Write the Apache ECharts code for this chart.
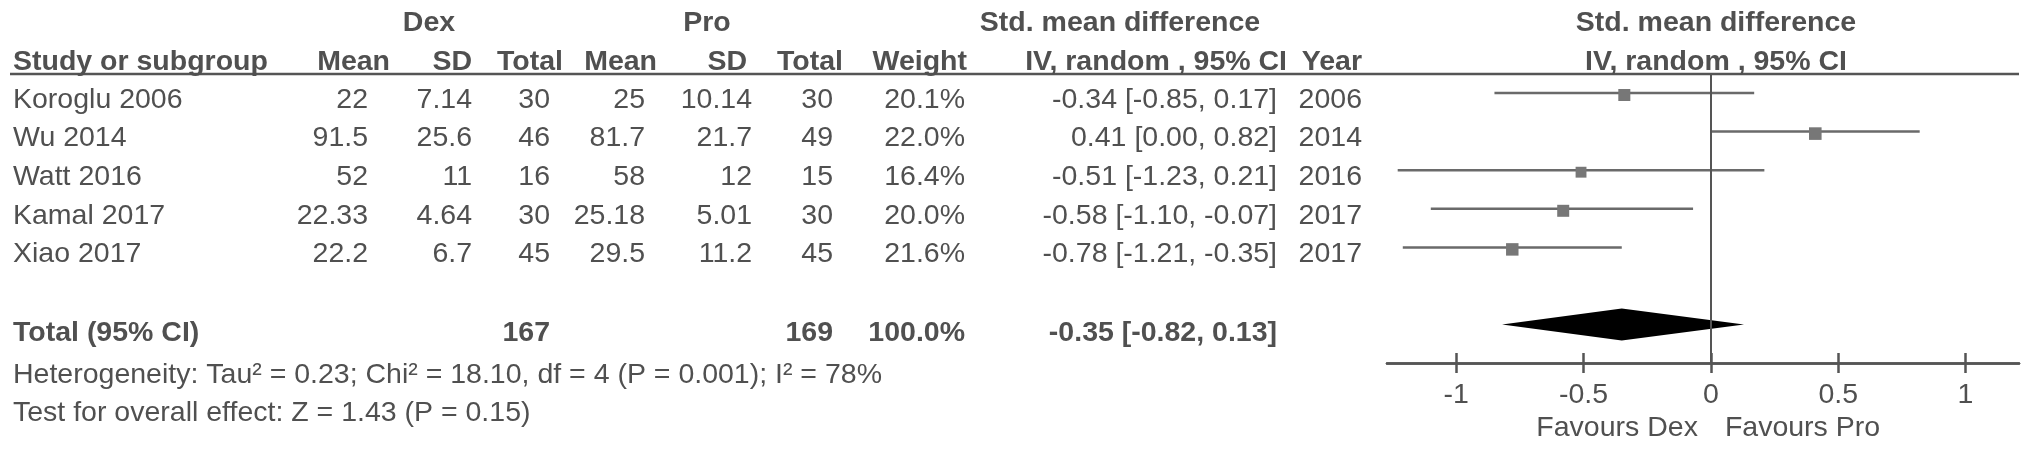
<!DOCTYPE html>
<html>
<head>
<meta charset="utf-8">
<script src="https://cdn.jsdelivr.net/npm/echarts@6/dist/echarts.min.js"></script>
<style>
html,body{margin:0;padding:0;background:#fff;}
#chart{width:2031px;height:451px;}
</style>
</head>
<body>
<div id="chart"></div>
<script>
// ---------------- data ----------------
const studies   = ['Koroglu 2006', 'Wu 2014', 'Watt 2016', 'Kamal 2017', 'Xiao 2017'];
const dexMean   = [22, 91.5, 52, 22.33, 22.2];
const dexSD     = [7.14, 25.6, 11, 4.64, 6.7];
const dexTotal  = [30, 46, 16, 30, 45];
const proMean   = [25, 81.7, 58, 25.18, 29.5];
const proSD     = [10.14, 21.7, 12, 5.01, 11.2];
const proTotal  = [30, 49, 15, 30, 45];
const weights   = [20.1, 22.0, 16.4, 20.0, 21.6];
const smd       = [-0.34, 0.41, -0.51, -0.58, -0.78];
const ciLow     = [-0.85, 0.00, -1.23, -1.10, -1.21];
const ciHigh    = [0.17, 0.82, 0.21, -0.07, -0.35];
const years     = [2006, 2014, 2016, 2017, 2017];
const pooled    = [-0.35, -0.82, 0.13];           // estimate, low, high
const pooledTotals = [167, 169, '100.0%'];
const xTicks    = [-1, -0.5, 0, 0.5, 1];
const groupHeaders = ['Dex', 'Pro', 'Std. mean difference', 'Std. mean difference'];
const colHeaders = ['Study or subgroup', 'Mean', 'SD', 'Total', 'Mean', 'SD', 'Total', 'Weight', 'IV, random , 95% CI', 'Year'];
const plotHeader2 = 'IV, random , 95% CI';
const favours   = ['Favours Dex', 'Favours Pro'];
const totalLabel = 'Total (95% CI)';
const heterogeneityText = 'Heterogeneity: Tau\u00B2 = 0.23; Chi\u00B2 = 18.10, df = 4 (P = 0.001); I\u00B2 = 78%';
const overallText = 'Test for overall effect: Z = 1.43 (P = 0.15)';

// ---------------- layout ----------------
const FONT = '"Liberation Sans", Arial, sans-serif';
const FS = 28.5;
const TXT = '#505050';
const X_MIN = -1.272, X_MAX = 1.21;
const Y_MIN = 0.5078, Y_MAX = 7.995;
const TOTAL_ROW = 7;
const TEXT_DY = 7;

const chart = echarts.init(document.getElementById('chart'), null, {renderer: 'canvas'});

const ciData = studies.map((s, i) => [ciLow[i], ciHigh[i], i + 1, smd[i], weights[i]]);

function axisDef(inside) {
  return {
    type: 'value', min: X_MIN, max: X_MAX, position: 'bottom',
    axisLine: {show: true, onZero: false, lineStyle: {color: '#555', width: 2.5}},
    axisTick: {show: true, inside: inside, length: 10, customValues: xTicks, lineStyle: {color: '#555', width: 2.5}},
    axisLabel: inside ? {show: false} : {
      show: true, customValues: xTicks, margin: 18, color: TXT,
      fontFamily: FONT, fontSize: FS,
      formatter: v => String(v)
    },
    splitLine: {show: false}
  };
}

const option = {
  animation: false,
  backgroundColor: '#fff',
  grid: {left: 1387, right: 12, top: 74, bottom: 88, containLabel: false},
  xAxis: [axisDef(false), axisDef(true)],
  yAxis: {type: 'value', inverse: true, min: Y_MIN, max: Y_MAX, show: false},
  series: [
    {
      type: 'custom',
      name: 'studies',
      data: ciData,
      clip: false,
      renderItem: function (params, api) {
        const lo = api.coord([api.value(0), api.value(2)]);
        const hi = api.coord([api.value(1), api.value(2)]);
        const c = api.coord([api.value(3), api.value(2)]);
        const size = 12 * Math.sqrt(api.value(4) / 20);
        return {
          type: 'group',
          children: [
            {type: 'line', shape: {x1: lo[0], y1: lo[1], x2: hi[0], y2: hi[1]},
             style: {stroke: '#6a6a6a', lineWidth: 2.5}},
            {type: 'rect', shape: {x: c[0] - size / 2, y: c[1] - size / 2 + 2, width: size, height: size},
             style: {fill: '#777'}}
          ]
        };
      },
      markLine: {
        silent: true, symbol: 'none', label: {show: false},
        lineStyle: {color: '#555', width: 2, type: 'solid'},
        data: [{xAxis: 0}]
      },
      z: 3
    },
    {
      type: 'custom',
      name: 'pooled',
      data: [[pooled[0], pooled[1], pooled[2], TOTAL_ROW]],
      renderItem: function (params, api) {
        const y = api.value(3);
        const l = api.coord([api.value(1), y]);
        const r = api.coord([api.value(2), y]);
        const c = api.coord([api.value(0), y]);
        const h = 16;
        return {
          type: 'polygon',
          shape: {points: [[l[0], l[1]], [c[0], c[1] - h], [r[0], r[1]], [c[0], c[1] + h]]},
          style: {fill: '#000'}
        };
      },
      z: 4
    }
  ]
};
chart.setOption(option);

// ---------------- table text ----------------
function txt(text, x, y, align, bold) {
  return {
    type: 'text', x: x, y: y, silent: true, z: 10,
    style: {
      text: String(text), fill: TXT,
      font: (bold ? 'bold ' : '') + FS + 'px ' + FONT,
      align: align, verticalAlign: 'middle',
      textAlign: align, textVerticalAlign: 'middle'
    }
  };
}
const rowY = v => chart.convertToPixel({gridIndex: 0}, [0, v])[1] + TEXT_DY;
const zeroX = chart.convertToPixel({gridIndex: 0}, [0, 1])[0];

const H1 = 23, H2 = 62;
// column anchors: [valueX, headerX, align]
const cols = [
  [13, 13, 'left'],
  [368, 390, 'right'],
  [472, 472, 'right'],
  [550, 563, 'right'],
  [645, 657, 'right'],
  [752, 747, 'right'],
  [833, 843, 'right'],
  [965, 967, 'right'],
  [1277, 1287, 'right'],
  [1362, 1362, 'right']
];
const els = [];
// group headers
els.push(txt(groupHeaders[0], 429, H1, 'center', true));
els.push(txt(groupHeaders[1], 707, H1, 'center', true));
els.push(txt(groupHeaders[2], 1120, H1, 'center', true));
els.push(txt(groupHeaders[3], 1716, H1, 'center', true));
els.push(txt(plotHeader2, 1716, H2, 'center', true));
colHeaders.forEach((h, j) => els.push(txt(h, cols[j][1], H2, cols[j][2], true)));
// header rule
els.push({type: 'line', silent: true, z: 9, shape: {x1: 10, y1: 74, x2: 2019, y2: 74}, style: {stroke: '#555', lineWidth: 2.5}});
// rows
studies.forEach((s, i) => {
  const y = rowY(i + 1);
  const vals = [s, dexMean[i], dexSD[i], dexTotal[i], proMean[i], proSD[i], proTotal[i],
    weights[i].toFixed(1) + '%',
    smd[i].toFixed(2) + ' [' + ciLow[i].toFixed(2) + ', ' + ciHigh[i].toFixed(2) + ']',
    years[i]];
  vals.forEach((v, j) => els.push(txt(v, cols[j][0], y, cols[j][2], false)));
});
// total row
const ty = rowY(TOTAL_ROW) + 2;
els.push(txt(totalLabel, cols[0][0], ty, 'left', true));
els.push(txt(pooledTotals[0], cols[3][0], ty, 'right', true));
els.push(txt(pooledTotals[1], cols[6][0], ty, 'right', true));
els.push(txt(pooledTotals[2], cols[7][0], ty, 'right', true));
els.push(txt(pooled[0].toFixed(2) + ' [' + pooled[1].toFixed(2) + ', ' + pooled[2].toFixed(2) + ']', cols[8][0], ty, 'right', true));
els.push(txt(heterogeneityText, 13, 375, 'left', false));
els.push(txt(overallText, 13, 413, 'left', false));
// favours labels
els.push(txt(favours[0], zeroX - 13, 428, 'right', false));
els.push(txt(favours[1], zeroX + 14, 428, 'left', false));

chart.setOption({graphic: {elements: els}});
</script>
</body>
</html>
